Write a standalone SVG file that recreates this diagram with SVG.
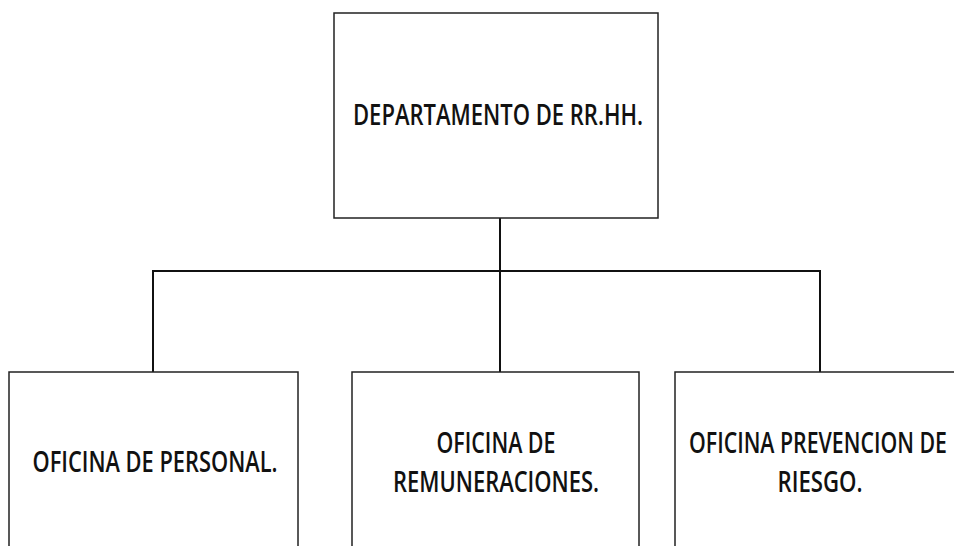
<svg xmlns="http://www.w3.org/2000/svg" width="954" height="546" viewBox="0 0 954 546">
<style>
.box{fill:#fff;stroke:#222;stroke-width:1.5}
.lbl{font-family:"Open Sans","Liberation Sans",sans-serif;font-size:28.5px;font-weight:600;fill:#111;text-anchor:middle}
.con{fill:none;stroke:#111;stroke-width:2}
</style>
<rect width="954" height="546" fill="#fff"/>
<g id="connectors">
<path class="con" d="M500,218 V372 M153,372 V271 H820 V372"/>
</g>
<g id="dept">
<rect class="box" x="334" y="13" width="324" height="205"/>
<text class="lbl" x="498" y="125" textLength="290" lengthAdjust="spacingAndGlyphs">DEPARTAMENTO DE RR.HH.</text>
</g>
<g id="personal">
<rect class="box" x="9" y="372" width="289" height="190"/>
<text class="lbl" x="155" y="472" textLength="245" lengthAdjust="spacingAndGlyphs">OFICINA DE PERSONAL.</text>
</g>
<g id="remuneraciones">
<rect class="box" x="352" y="372" width="287" height="190"/>
<text class="lbl" x="496" y="453" textLength="119" lengthAdjust="spacingAndGlyphs">OFICINA DE</text>
<text class="lbl" x="496" y="492" textLength="206" lengthAdjust="spacingAndGlyphs">REMUNERACIONES.</text>
</g>
<g id="prevencion">
<rect class="box" x="675" y="372" width="300" height="190"/>
<text class="lbl" x="818" y="453" textLength="258" lengthAdjust="spacingAndGlyphs">OFICINA PREVENCION DE</text>
<text class="lbl" x="820" y="492" textLength="85" lengthAdjust="spacingAndGlyphs">RIESGO.</text>
</g>
</svg>
